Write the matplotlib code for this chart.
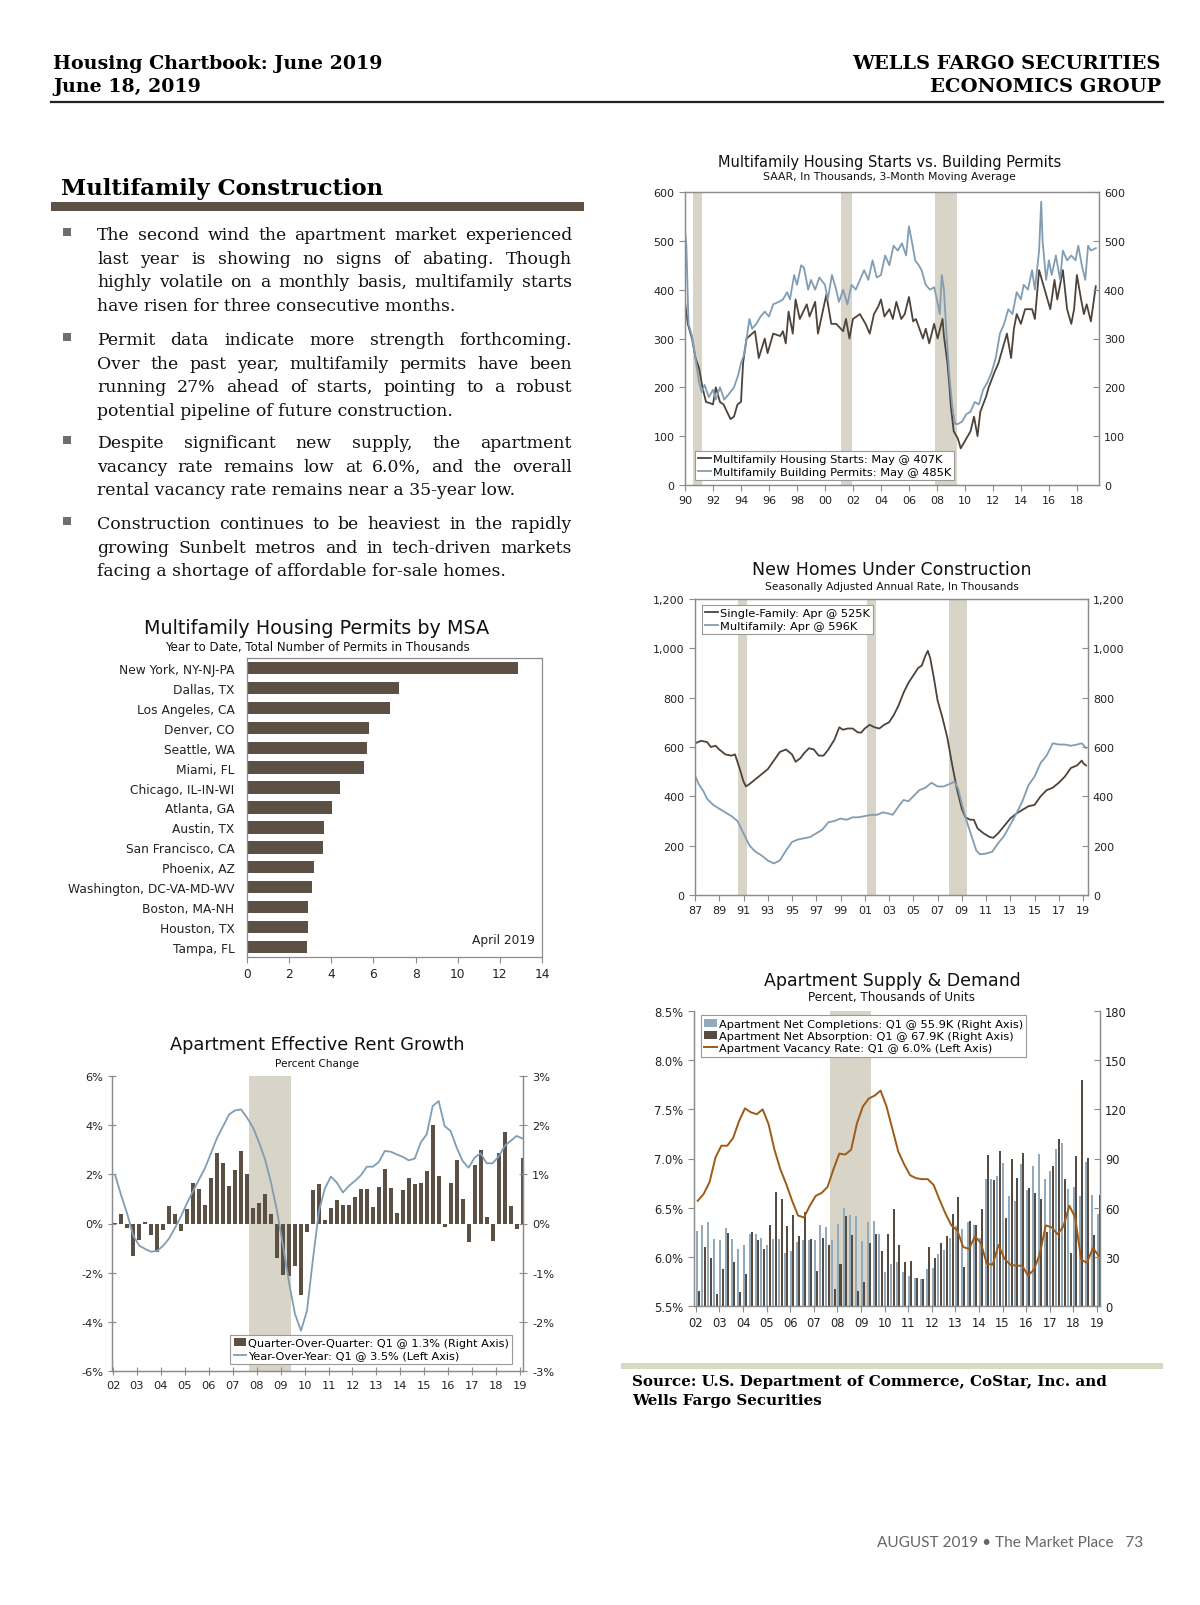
import matplotlib
matplotlib.use('Agg')
import matplotlib.pyplot as plt
from matplotlib.patches import Rectangle
import numpy as np

plt.rcParams['font.family'] = ['DejaVu Sans']

W, H = 1200, 1606

DARK = '#4f4339'
BLUE = '#819db3'
REC = '#d8d4c7'
BARC = '#5c5045'
LBLUE = '#93aabb'
ORANGE = '#9e5a16'
GRAY = '#8c8c8c'

# ---- Multifamily housing starts vs permits (3-mo avg, thousands)
starts_t = [1990.0, 1990.2, 1990.5, 1990.75, 1991.0, 1991.25, 1991.5, 1991.75, 1992.0, 1992.2,
            1992.5, 1992.75, 1993.0, 1993.25, 1993.5, 1993.75, 1994.0, 1994.15, 1994.4, 1995.0,
            1995.27, 1995.7, 1995.9, 1996.3, 1996.8, 1997.0, 1997.2, 1997.4, 1997.7, 1997.9,
            1998.2, 1998.7, 1998.9, 1999.3, 1999.5, 2000.1, 2000.45, 2000.8, 2001.3, 2001.5,
            2001.75, 2002.0, 2002.5, 2002.9, 2003.2, 2003.5, 2003.8, 2004.0, 2004.25, 2004.6,
            2004.85, 2005.1, 2005.45, 2005.7, 2006.0, 2006.3, 2006.5, 2007.0, 2007.2, 2007.45,
            2007.8, 2008.05, 2008.4, 2008.5, 2008.75, 2008.9, 2009.0, 2009.2, 2009.5, 2009.7,
            2010.1, 2010.4, 2010.65, 2010.9, 2011.1, 2011.5, 2011.7, 2012.1, 2012.4, 2012.8,
            2013.0, 2013.3, 2013.5, 2013.7, 2014.0, 2014.3, 2014.8, 2015.0, 2015.3, 2015.6,
            2015.9, 2016.1, 2016.4, 2016.6, 2017.0, 2017.3, 2017.6, 2017.8, 2018.0, 2018.3,
            2018.5, 2018.7, 2019.0, 2019.35]
starts_v = [375, 330, 300, 260, 240, 200, 170, 168, 165, 200,
            170, 165, 150, 135, 140, 165, 170, 250, 300, 315,
            260, 300, 270, 310, 305, 315, 290, 355, 310, 380,
            340, 370, 345, 375, 310, 390, 330, 330, 315, 340,
            300, 340, 350, 330, 310, 350, 365, 380, 345, 360,
            340, 375, 340, 350, 385, 335, 340, 300, 320, 290,
            330, 300, 340, 305, 250, 200, 160, 110, 95, 75,
            95, 110, 140, 100, 150, 180, 200, 230, 250, 290,
            310, 260, 320, 350, 330, 360, 360, 340, 440, 410,
            380, 360, 420, 380, 440, 360, 330, 360, 430, 380,
            350, 370, 335, 407]
permits_t = [1990.0, 1990.1, 1990.25, 1990.5, 1990.8, 1991.0, 1991.2, 1991.4, 1991.7, 1992.0,
             1992.2, 1992.5, 1992.8, 1993.1, 1993.5, 1993.8, 1994.0, 1994.2, 1994.4, 1994.6,
             1994.8, 1995.1, 1995.4, 1995.7, 1996.0, 1996.3, 1996.7, 1997.0, 1997.3, 1997.5,
             1997.8, 1998.0, 1998.3, 1998.5, 1998.8, 1999.0, 1999.3, 1999.6, 2000.0, 2000.2,
             2000.5, 2000.8, 2001.0, 2001.3, 2001.6, 2001.9, 2002.2, 2002.5, 2002.8, 2003.1,
             2003.4, 2003.7, 2004.0, 2004.3, 2004.6, 2004.9, 2005.2, 2005.5, 2005.8, 2006.0,
             2006.2, 2006.45, 2006.7, 2006.9, 2007.2, 2007.5, 2007.8, 2008.0, 2008.2, 2008.35,
             2008.5, 2008.7, 2008.9, 2009.1, 2009.3, 2009.5, 2009.8, 2010.1, 2010.4, 2010.7,
             2011.0, 2011.3, 2011.6, 2011.9, 2012.2, 2012.5, 2012.8, 2013.1, 2013.4, 2013.7,
             2014.0, 2014.2, 2014.5, 2014.8, 2015.0, 2015.3, 2015.45, 2015.55, 2015.8, 2016.0,
             2016.2, 2016.5, 2016.8, 2017.0, 2017.3, 2017.6, 2017.9, 2018.1, 2018.35, 2018.6,
             2018.8, 2019.0, 2019.35]
permits_v = [520, 490, 330, 305, 250, 210, 190, 205, 180, 195,
             175, 200, 175, 185, 200, 225, 250, 265, 300, 340,
             320, 330, 345, 355, 345, 370, 375, 380, 395, 380,
             430, 410, 450, 445, 400, 420, 400, 425, 410, 380,
             430, 400, 375, 400, 370, 410, 400, 420, 440, 420,
             460, 425, 430, 470, 450, 490, 480, 495, 470, 530,
             500, 460, 450, 440, 410, 400, 405, 380, 350, 430,
             400, 300, 220, 160, 125, 125, 130, 145, 150, 170,
             165, 195, 210, 230, 260, 310, 330, 360, 350, 395,
             380, 410, 400, 440, 400, 480, 580, 500, 420, 460,
             430, 470, 420, 480, 460, 470, 460, 490, 450, 420,
             490, 480, 485]
rec_starts = [(1990.55, 1991.19), (2001.14, 2001.9), (2007.86, 2009.4)]

# ---- New homes under construction (thousands)
sf_t = [1987.0, 1987.5, 1988.0, 1988.3, 1988.7, 1989.0, 1989.5, 1990.0, 1990.3, 1990.7,
        1991.0, 1991.2, 1991.5, 1992.0, 1992.5, 1993.0, 1993.5, 1994.0, 1994.5, 1995.0,
        1995.3, 1995.7, 1996.0, 1996.4, 1996.8, 1997.2, 1997.6, 1998.0, 1998.5, 1998.9,
        1999.2, 1999.6, 2000.0, 2000.4, 2000.7, 2001.0, 2001.4, 2001.8, 2002.2, 2002.6,
        2003.0, 2003.4, 2003.8, 2004.2, 2004.6, 2005.0, 2005.4, 2005.7, 2006.0, 2006.2,
        2006.4, 2006.7, 2007.0, 2007.4, 2007.8, 2008.2, 2008.6, 2009.0, 2009.3, 2009.7,
        2010.0, 2010.3, 2010.8, 2011.3, 2011.6, 2012.0, 2012.5, 2013.0, 2013.5, 2014.0,
        2014.5, 2015.0, 2015.5, 2016.0, 2016.5, 2017.0, 2017.5, 2018.0, 2018.5, 2018.9,
        2019.0, 2019.25]
sf_v = [615, 625, 620, 600, 605, 590, 570, 565, 570, 510,
        460, 440, 450, 470, 490, 510, 545, 580, 590, 570,
        540, 555, 575, 595, 590, 565, 565, 590, 630, 680,
        670, 675, 675, 660, 658, 675, 690, 680, 675, 690,
        700, 730, 770, 820, 860, 890, 920, 930, 970, 990,
        960, 880, 790, 720, 640, 530, 430, 350, 315, 305,
        305, 270, 250, 235, 232, 250, 280, 310, 330, 345,
        360, 365, 400, 425, 435, 455, 480, 515, 525, 545,
        535, 525]
mf_t = [1987.0, 1987.3, 1987.7, 1988.0, 1988.5, 1989.0, 1989.5, 1990.0, 1990.5, 1991.0,
        1991.5, 1992.0, 1992.5, 1993.0, 1993.5, 1994.0, 1994.5, 1995.0, 1995.5, 1996.0,
        1996.5, 1997.0, 1997.5, 1998.0, 1998.5, 1999.0, 1999.5, 2000.0, 2000.5, 2001.0,
        2001.5, 2002.0, 2002.5, 2003.0, 2003.3, 2003.8, 2004.2, 2004.6, 2005.0, 2005.5,
        2006.0, 2006.5, 2007.0, 2007.5, 2008.0, 2008.4, 2008.7, 2009.0, 2009.4, 2009.8,
        2010.2, 2010.5, 2011.0, 2011.5, 2012.0, 2012.5, 2013.0, 2013.5, 2014.0, 2014.5,
        2015.0, 2015.5, 2016.0, 2016.5, 2017.0, 2017.5, 2018.0, 2018.5, 2018.9, 2019.25]
mf_v = [485, 450, 420, 390, 365, 350, 335, 320, 300, 250,
        200, 175, 160, 140, 128, 140, 180, 215, 225, 230,
        235, 250, 265, 295, 300, 310, 305, 315, 315, 320,
        325, 325, 335, 330, 325, 360, 385, 380, 400, 425,
        435, 455, 440, 440, 450, 460, 430, 370, 300, 240,
        180, 165, 168, 175, 210, 240, 285, 330, 380, 445,
        480, 535, 565, 615, 610, 610, 605, 610, 615, 596]
rec_homes = [(1990.57, 1991.25), (2001.2, 2001.9), (2007.93, 2009.45)]

# ---- Apartment supply & demand, quarterly 2002Q1-2019Q1
completions = [45.8, 49.2, 51.3, 41.1, 40.3, 47.8, 41.1, 34.6, 37.0, 44.1,
               44.1, 41.7, 37.0, 40.7, 40.7, 32.5, 33.8, 39.0, 40.1, 40.1,
               40.1, 49.4, 48.4, 40.3, 49.8, 60.0, 55.3, 54.9, 39.7, 51.5,
               51.9, 43.7, 20.7, 25.8, 27.0, 20.7, 18.3, 17.3, 16.3, 22.4,
               23.4, 31.9, 34.2, 41.7, 48.8, 46.8, 51.3, 49.4, 41.7, 77.3,
               77.7, 79.3, 87.5, 67.1, 64.1, 86.4, 70.6, 85.4, 92.9, 77.3,
               82.4, 95.6, 99.2, 71.6, 72.8, 67.1, 87.9, 67.5, 55.9]
absorption = [9.2, 36.0, 29.5, 7.1, 22.4, 44.7, 26.8, 8.7, 19.7, 45.1,
              40.1, 34.6, 49.6, 69.8, 65.5, 48.8, 55.3, 42.7, 57.4, 41.1,
              21.4, 41.7, 37.0, 10.2, 25.8, 54.9, 43.3, 9.2, 14.8, 38.6,
              43.7, 33.6, 43.7, 59.0, 37.0, 27.0, 27.5, 16.9, 16.3, 36.0,
              29.5, 38.6, 42.7, 55.9, 66.7, 24.0, 51.9, 49.2, 59.0, 92.1,
              76.9, 94.6, 53.9, 89.5, 77.9, 93.6, 72.2, 69.1, 65.5, 45.1,
              85.4, 101.7, 77.7, 32.1, 91.6, 137.7, 90.5, 43.1, 67.9]
vacancy = [6.57, 6.64, 6.76, 7.01, 7.13, 7.13, 7.21, 7.38, 7.51, 7.47,
           7.45, 7.50, 7.35, 7.09, 6.89, 6.74, 6.57, 6.42, 6.40, 6.52,
           6.62, 6.65, 6.71, 6.89, 7.05, 7.04, 7.09, 7.36, 7.53, 7.61,
           7.64, 7.69, 7.53, 7.30, 7.07, 6.94, 6.83, 6.80, 6.79, 6.79,
           6.73, 6.58, 6.44, 6.32, 6.27, 6.10, 6.08, 6.21, 6.14, 5.93,
           5.92, 6.12, 5.98, 5.92, 5.91, 5.91, 5.81, 5.87, 6.03, 6.32,
           6.30, 6.23, 6.31, 6.52, 6.40, 5.97, 5.94, 6.09, 6.01]
rec_q = (2007.69, 2009.43)

# ---- Permits by MSA, YTD thousands
msa_names = ['New York, NY-NJ-PA', 'Dallas, TX', 'Los Angeles, CA', 'Denver, CO', 'Seattle, WA',
             'Miami, FL', 'Chicago, IL-IN-WI', 'Atlanta, GA', 'Austin, TX', 'San Francisco, CA',
             'Phoenix, AZ', 'Washington, DC-VA-MD-WV', 'Boston, MA-NH', 'Houston, TX', 'Tampa, FL']
msa_vals = [12.86, 7.2, 6.8, 5.78, 5.7, 5.55, 4.41, 4.02, 3.64, 3.59, 3.2, 3.09, 2.91, 2.88, 2.86]

# ---- Apartment effective rent growth, quarterly 2002Q1-2019Q1
rent_qoq = [0.02, 0.19, -0.09, -0.66, -0.33, 0.04, -0.23, -0.58, -0.13, 0.36,
            0.20, -0.16, 0.30, 0.83, 0.70, 0.37, 0.92, 1.43, 1.24, 0.76,
            1.08, 1.47, 1.01, 0.31, 0.41, 0.60, 0.19, -0.71, -1.05, -1.06,
            -0.87, -1.45, -0.17, 0.69, 0.81, 0.07, 0.31, 0.48, 0.37, 0.37,
            0.53, 0.70, 0.70, 0.34, 0.75, 1.10, 0.73, 0.21, 0.68, 0.93,
            0.80, 0.83, 1.07, 2.00, 0.96, -0.07, 0.83, 1.29, 0.49, -0.37,
            1.18, 1.50, 0.14, -0.36, 1.43, 1.87, 0.35, -0.12, 1.33]
rent_yoy = [1.94, 1.12, 0.38, -0.50, -0.90, -1.04, -1.15, -1.11, -0.90, -0.60,
            -0.16, 0.31, 0.85, 1.33, 1.80, 2.27, 2.88, 3.49, 3.96, 4.44,
            4.60, 4.64, 4.30, 3.90, 3.29, 2.61, 1.66, 0.51, -0.90, -2.40,
            -3.68, -4.36, -3.55, -1.45, 0.51, 1.43, 1.91, 1.66, 1.26, 1.53,
            1.73, 1.96, 2.31, 2.31, 2.50, 2.95, 2.92, 2.81, 2.71, 2.57,
            2.64, 3.29, 3.63, 4.78, 4.98, 3.96, 3.76, 3.09, 2.54, 2.27,
            2.68, 2.86, 2.45, 2.45, 2.72, 3.15, 3.36, 3.56, 3.46]

fig = plt.figure(figsize=(W / 100, H / 100), dpi=100)
fig.patch.set_facecolor('white')


def px_axes(l, t, r, b):
    return fig.add_axes([l / W, 1 - b / H, (r - l) / W, (b - t) / H])


def ftext(x, y, s, **kw):
    return fig.text(x / W, 1 - y / H, s, **kw)


def frame(ax, top=True, size=8):
    for s in ['left', 'right', 'bottom', 'top']:
        ax.spines[s].set_color(GRAY)
        ax.spines[s].set_linewidth(0.9)
    ax.spines['top'].set_visible(top)
    ax.tick_params(colors=GRAY, labelcolor='#222222', labelsize=size, length=4, width=0.8)


def right_labels(ax, ticks, labels, size=8, direction='in'):
    tw = ax.twinx()
    tw.set_ylim(ax.get_ylim())
    tw.set_yticks(ticks)
    tw.set_yticklabels(labels)
    frame(tw, top=ax.spines['top'].get_visible(), size=size)
    tw.tick_params(axis='y', direction=direction)
    return tw


def leg(ax, handles, labels, size=8.2, **kw):
    lg = ax.legend(handles, labels, fontsize=size, frameon=True, fancybox=False,
                   edgecolor='#999999', framealpha=1, handlelength=1.1, handletextpad=0.15,
                   borderpad=0.3, labelspacing=0.2, borderaxespad=0, **kw)
    lg.get_frame().set_linewidth(0.8)
    return lg


yr_lab = lambda ys: ['%02d' % (y % 100) for y in ys]

# ================= Chart 1 =================
ftext(869 * 1.024, 162, 'Multifamily Housing Starts vs. Building Permits', ha='center',
      va='center', fontsize=10.5, color='#111111')
ftext(869 * 1.024, 177, 'SAAR, In Thousands, 3-Month Moving Average', ha='center', va='center',
      fontsize=7.8, color='#111111')
ax1 = px_axes(685, 193, 1099, 486)
for a, b in rec_starts:
    ax1.axvspan(a, b, color=REC, lw=0)
l1, = ax1.plot(starts_t, starts_v, color=DARK, lw=1.3)
l2, = ax1.plot(permits_t, permits_v, color=BLUE, lw=1.3)
ax1.set_xlim(1990, 2019.58)
ax1.set_ylim(0, 600)
yt = list(range(0, 601, 100))
ax1.set_yticks(yt)
xt = list(range(1990, 2019, 2))
ax1.set_xticks(xt)
ax1.set_xticklabels(yr_lab(xt))
frame(ax1, size=8)
right_labels(ax1, yt, [str(v) for v in yt], size=8)
leg(ax1, [l1, l2], ['Multifamily Housing Starts: May @ 407K',
                    'Multifamily Building Permits: May @ 485K'],
    loc='lower left', bbox_to_anchor=(0.024, 0.017))

# ================= Chart 2 =================
ftext(892, 570, 'New Homes Under Construction', ha='center', va='center', fontsize=12.5,
      color='#111111')
ftext(892, 587, 'Seasonally Adjusted Annual Rate, In Thousands', ha='center', va='center',
      fontsize=7.7, color='#111111')
ax2 = px_axes(695, 600, 1088, 896)
for a, b in rec_homes:
    ax2.axvspan(a, b, color=REC, lw=0)
m1, = ax2.plot(sf_t, sf_v, color=DARK, lw=1.3)
m2, = ax2.plot(mf_t, mf_v, color=BLUE, lw=1.3)
ax2.set_xlim(1987, 2019.41)
ax2.set_ylim(0, 1200)
yt2 = list(range(0, 1201, 200))
yl2 = ['{:,}'.format(v) for v in yt2]
ax2.set_yticks(yt2)
ax2.set_yticklabels(yl2)
xt2 = list(range(1987, 2020, 2))
ax2.set_xticks(xt2)
ax2.set_xticklabels(yr_lab(xt2))
frame(ax2, size=8)
right_labels(ax2, yt2, yl2, size=8)
leg(ax2, [m1, m2], ['Single-Family: Apr @ 525K', 'Multifamily: Apr @ 596K'],
    loc='upper left', bbox_to_anchor=(0.018, 0.98))

# ================= Chart 3 =================
ftext(892, 981, 'Apartment Supply & Demand', ha='center', va='center', fontsize=12.5,
      color='#111111')
ftext(892, 998, 'Percent, Thousands of Units', ha='center', va='center', fontsize=8.6,
      color='#111111')
ax3 = px_axes(694, 1012, 1100, 1307)
q = 2002 + 0.25 * np.arange(len(completions))
ax3.set_xlim(2001.92, 2019.13)
ax3r = ax3.twinx()
ax3r.axvspan(*rec_q, color=REC, lw=0)
b1 = ax3r.bar(q + 0.03, completions, width=0.085, color=LBLUE, lw=0)
b2 = ax3r.bar(q + 0.13, absorption, width=0.085, color='#564a41', lw=0)
ax3r.set_ylim(0, 180)
ax3r.set_yticks(range(0, 181, 30))
frame(ax3r, top=False, size=8.3)
ax3r.tick_params(axis='y', direction='in')
v1, = ax3.plot(q + 0.08, vacancy, color=ORANGE, lw=1.4)
ax3.set_ylim(5.5, 8.5)
yt3 = [5.5, 6.0, 6.5, 7.0, 7.5, 8.0, 8.5]
ax3.set_yticks(yt3)
ax3.set_yticklabels(['%.1f%%' % v for v in yt3])
xt3 = list(range(2002, 2020))
ax3.set_xticks(xt3)
ax3.set_xticklabels(yr_lab(xt3))
frame(ax3, top=False, size=8.3)
ax3.set_zorder(ax3r.get_zorder() + 1)
ax3.patch.set_visible(False)
leg(ax3, [b1, b2, v1], ['Apartment Net Completions: Q1 @ 55.9K (Right Axis)',
                        'Apartment Net Absorption: Q1 @ 67.9K (Right Axis)',
                        'Apartment Vacancy Rate: Q1 @ 6.0% (Left Axis)'],
    size=8.2, loc='upper left', bbox_to_anchor=(0.017, 0.986))

# ================= Chart 4 =================
ftext(317, 629, 'Multifamily Housing Permits by MSA', ha='center', va='center', fontsize=13.8,
      color='#111111')
ftext(317, 647, 'Year to Date, Total Number of Permits in Thousands', ha='center', va='center',
      fontsize=8.5, color='#111111')
ax4 = px_axes(247, 659, 542, 958)
pos = np.arange(len(msa_names))
ax4.barh(pos, msa_vals, height=0.62, color=BARC)
ax4.set_ylim(len(msa_names) - 0.5, -0.5)
ax4.set_xlim(0, 14)
ax4.set_xticks(range(0, 15, 2))
ax4.set_yticks(pos)
ax4.set_yticklabels(msa_names)
frame(ax4, size=8.8)
ax4.tick_params(axis='y', length=0, pad=9)
ax4.text(0.868, 0.057, 'April 2019', transform=ax4.transAxes, ha='center', va='center',
         fontsize=8.8, color='#222222')

# ================= Chart 5 =================
ftext(317, 1045, 'Apartment Effective Rent Growth', ha='center', va='center', fontsize=12.8,
      color='#111111')
ftext(317, 1064, 'Percent Change', ha='center', va='center', fontsize=7.6, color='#111111')
ax5 = px_axes(112, 1077, 523, 1372)
q5 = 2002 + 0.25 * np.arange(len(rent_qoq))
ax5.set_xlim(2001.96, 2019.12)
ax5r = ax5.twinx()
ax5r.axvspan(*rec_q, color=REC, lw=0)
bq = ax5r.bar(q5 + 0.1, rent_qoq, width=0.165, color=BARC, lw=0)
ax5r.set_ylim(-3, 3)
ax5r.set_yticks(range(-3, 4))
ax5r.set_yticklabels(['%d%%' % v for v in range(-3, 4)])
frame(ax5r, top=False, size=8.2)
ax5r.tick_params(axis='y', direction='inout', length=6)
ly, = ax5.plot(q5 + 0.1, rent_yoy, color=BLUE, lw=1.3)
ax5.set_ylim(-6, 6)
ax5.set_yticks(range(-6, 7, 2))
ax5.set_yticklabels(['%d%%' % v for v in range(-6, 7, 2)])
xt5 = list(range(2002, 2020))
ax5.set_xticks(xt5)
ax5.set_xticklabels(yr_lab(xt5))
frame(ax5, top=False, size=8.2)
ax5.tick_params(direction='inout', length=6)
ax5.set_zorder(ax5r.get_zorder() + 1)
ax5.patch.set_visible(False)
leg(ax5, [bq, ly], ['Quarter-Over-Quarter: Q1 @ 1.3% (Right Axis)',
                    'Year-Over-Year: Q1 @ 3.5% (Left Axis)'],
    size=8.1, loc='lower right', bbox_to_anchor=(0.973, 0.024))

# ================= Page text =================
serif = 'DejaVu Serif'
ftext(53, 69, 'Housing Chartbook: June 2019', fontsize=13.7, fontweight='bold', family=serif)
ftext(53, 92, 'June 18, 2019', fontsize=13.7, fontweight='bold', family=serif)
ftext(1161, 69, 'WELLS FARGO SECURITIES', fontsize=14, fontweight='bold', family=serif, ha='right')
ftext(1161, 92, 'ECONOMICS GROUP', fontsize=14, fontweight='bold', family=serif, ha='right')
fig.add_artist(plt.Line2D([51 / W, 1163 / W], [1 - 103 / H, 1 - 103 / H], color='#222222', lw=1.6))

ftext(61, 195, 'Multifamily Construction', fontsize=16.4, fontweight='bold', family=serif)
fig.add_artist(Rectangle((51 / W, 1 - 212 / H), 533 / W, 9 / H, color='#5e5145', lw=0))

paragraphs = [
    ['The second wind the apartment market experienced',
     'last year is showing no signs of abating. Though',
     'highly volatile on a monthly basis, multifamily starts',
     'have risen for three consecutive months.'],
    ['Permit data indicate more strength forthcoming.',
     'Over the past year, multifamily permits have been',
     'running 27% ahead of starts, pointing to a robust',
     'potential pipeline of future construction.'],
    ['Despite significant new supply, the apartment',
     'vacancy rate remains low at 6.0%, and the overall',
     'rental vacancy rate remains near a 35-year low.'],
    ['Construction continues to be heaviest in the rapidly',
     'growing Sunbelt metros and in tech-driven markets',
     'facing a shortage of affordable for-sale homes.'],
]
para_base = [240, 345, 448, 529]
line_step = 23.6
x_left, x_right = 97, 572
body_kw = dict(fontsize=12.4, family=serif, color='#111111', va='baseline')
fig.canvas.draw()
renderer = fig.canvas.get_renderer()
for lines, y0 in zip(paragraphs, para_base):
    fig.add_artist(Rectangle((63 / W, 1 - (y0 - 3) / H), 8 / W, 8 / H, color='#6e6e6e', lw=0))
    for i, line in enumerate(lines):
        yb = y0 + i * line_step
        if i == len(lines) - 1:
            ftext(x_left, yb, line, **body_kw)
            continue
        words = line.split()
        texts = [ftext(0, yb, w, **body_kw) for w in words]
        widths = [t.get_window_extent(renderer).width for t in texts]
        gap = (x_right - x_left - sum(widths)) / (len(words) - 1)
        x = x_left
        for t, w in zip(texts, widths):
            t.set_position((x / W, 1 - yb / H))
            x += w + gap

fig.add_artist(Rectangle((621 / W, 1 - 1370 / H), 542 / W, 6 / H, color='#d5dac0', lw=0))
ftext(632, 1386, 'Source: U.S. Department of Commerce, CoStar, Inc. and', fontsize=10.9,
      fontweight='bold', family=serif, va='baseline')
ftext(632, 1405, 'Wells Fargo Securities', fontsize=10.9, fontweight='bold', family=serif,
      va='baseline')
ftext(1143, 1543, 'AUGUST 2019 \u2022 The Market Place   73', fontsize=11.1,
      family=['Lato', 'DejaVu Sans'], fontweight='normal', color='#666666', ha='right',
      va='center')

fig.savefig('out.png', dpi=100, facecolor='white')
